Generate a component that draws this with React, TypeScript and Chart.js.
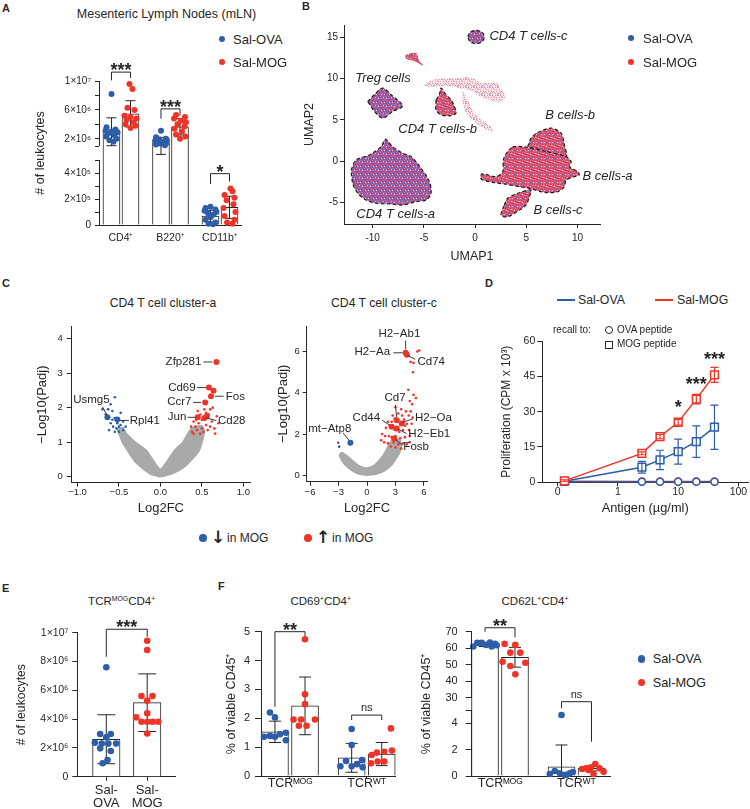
import React, { useEffect, useRef } from 'react';
import { Chart, registerables, LinearScale } from 'chart.js';

Chart.register(...registerables);

const FONT = "'Liberation Sans', Arial, Helvetica, sans-serif";
const INK = '#262626';
const BLUE = '#2e5ea8';
const RED = '#ee3427';
const GRAY = '#a9a9a9';

Chart.defaults.font.family = FONT;
Chart.defaults.color = INK;

// ---------- a linear scale with a broken (two-segment) axis ----------
class BrokenLinearScale extends LinearScale {
  static id = 'brokenLinear';
  static defaults = LinearScale.defaults;
  _brk() {
    const o: any = this.options;
    return { lo: o.breakLow, hi: o.breakHigh, fl: o.breakLowFrac, fh: o.breakHighFrac };
  }
  getPixelForValue(value: any) {
    if (value === null || value === undefined || isNaN(value)) return NaN;
    const { lo, hi, fl, fh } = this._brk();
    const min = (this as any).min, max = (this as any).max;
    let d;
    if (value <= lo) d = ((value - min) / (lo - min)) * fl;
    else if (value >= hi) d = fh + ((value - hi) / (max - hi)) * (1 - fh);
    else d = fl + ((value - lo) / (hi - lo)) * (fh - fl);
    return (this as any).getPixelForDecimal(d);
  }
  getValueForPixel(pixel: number) {
    const { lo, hi, fl, fh } = this._brk();
    const min = (this as any).min, max = (this as any).max;
    const d = (this as any).getDecimalForPixel(pixel);
    if (d <= fl) return min + (d / fl) * (lo - min);
    if (d >= fh) return hi + ((d - fh) / (1 - fh)) * (max - hi);
    return lo + ((d - fl) / (fh - fl)) * (hi - lo);
  }
}
Chart.register(BrokenLinearScale as any);

// =================== DATA ===================
// ---- Panel A: mLN leukocytes ----
const A_GROUPS = ['CD4⁺', 'B220⁺', 'CD11b⁺'];
const A_Y_TICKS = [0, 1e5, 2e5, 3e5, 4e5, 5e5, 1e6, 2e6, 4e6, 6e6, 8e6, 1e7];
const A_Y_LABELS = ['0', '', '2×10⁵', '', '4×10⁵', '', '', '2×10⁶', '', '6×10⁶', '', '1×10⁷'];
const A_OVA_MEAN = [2.97e6, 1.45e6, 6.8e4];
const A_MOG_MEAN = [5.45e6, 3.65e6, 1.36e5];
const A_OVA_SD = [1.93e6, 0.75e6, 4.5e4];
const A_MOG_SD = [1.82e6, 1.13e6, 8.5e4];
const A_OVA_DOTS = [
  [8.2e6, 3.6e6, 3.3e6, 3.1e6, 3.0e6, 2.9e6, 2.7e6, 2.5e6, 2.3e6, 2.0e6, 1.8e6, 1.6e6],
  [3.1e6, 2.2e6, 2.0e6, 1.9e6, 1.8e6, 1.7e6, 1.6e6, 1.5e6, 1.4e6, 1.3e6, 1.2e6, 1.1e6],
  [1.4e5, 1.3e5, 1.2e5, 1.1e5, 1.0e5, 9e4, 8e4, 6e4, 4e4, 2e4, 1e4, 5e3],
];
const A_OVA_JITTER = [
  [0, -0.1, 0.08, -0.12, 0, 0.12, -0.07, 0.06, -0.11, 0.1, -0.04, 0.04],
  [0, -0.1, 0.1, -0.03, 0.12, -0.12, 0.06, -0.07, 0.11, 0, -0.1, 0.08],
  [0, -0.1, 0.1, -0.12, 0.12, -0.05, 0.06, 0, -0.1, 0.1, -0.04, 0.05],
];
const A_MOG_DOTS = [
  [9.6e6, 8.9e6, 6.3e6, 6.0e6, 5.2e6, 5.0e6, 4.8e6, 4.6e6, 4.3e6, 4.0e6, 3.8e6, 3.5e6],
  [5.3e6, 5.0e6, 4.8e6, 4.5e6, 4.3e6, 4.0e6, 3.7e6, 3.4e6, 3.0e6, 2.6e6, 2.3e6, 2.0e6],
  [2.8e5, 2.6e5, 2.3e5, 2.1e5, 1.9e5, 1.6e5, 1.3e5, 1.0e5, 7e4, 4e4, 2e4, 1e4],
];
const A_MOG_JITTER = [
  [-0.02, 0.04, -0.06, 0.08, -0.12, 0, 0.12, -0.08, 0.06, -0.1, 0.1, 0],
  [-0.08, 0.1, -0.12, 0.02, 0.12, -0.05, 0.09, -0.11, 0.04, -0.08, 0.11, 0],
  [0.02, 0.06, -0.1, 0.1, -0.06, 0.08, -0.12, 0.12, -0.1, 0.1, -0.05, 0.06],
];
const A_SIG = [
  { g: 0, y: 1.123e7, yl: 1.009e7, yr: 1.045e7, text: '***' },
  { g: 1, y: 6.14e6, yl: 4.78e6, yr: 5.23e6, text: '***' },
  { g: 2, y: 3.95e5, yl: 3.15e5, yr: 3.34e5, text: '*' },
];

// ---- Panel B: UMAP cluster outlines (UMAP1, UMAP2) ----
const B_X_TICKS = [-10, -5, 0, 5, 10];
const B_Y_TICKS = [-5, 0, 5, 10, 15];
const B_CD4_A = [[-12.11, -1.06], [-11.62, 0.16], [-10.32, 0.76], [-9.18, 1.77], [-8.76, 2.67], [-8.05, 1.77], [-7.07, 0.97], [-6.25, 0.56], [-5.27, -0.85], [-4.46, -2.47], [-4.3, -3.88], [-4.79, -4.7], [-5.76, -4.9], [-7.07, -5.3], [-8.37, -5.18], [-9.67, -5.09], [-10.65, -4.7], [-11.46, -3.88], [-11.95, -2.67], [-12.11, -1.06]];
const B_TREG = [[-10.49, 7.23], [-9.83, 8.05], [-9.02, 8.86], [-8.2, 8.05], [-7.07, 6.71], [-8.05, 6.02], [-9.02, 5.22], [-9.83, 6.02], [-10.16, 6.63], [-10.49, 7.23]];
const B_CD4_B = [[-3.81, 7.44], [-3.49, 8.05], [-3.32, 8.86], [-2.83, 8.05], [-2.34, 7.44], [-2.02, 6.63], [-1.86, 5.83], [-2.51, 5.5], [-3.32, 5.62], [-3.81, 6.23], [-3.81, 7.44]];
const B_CD4_C = [[-0.7, 15.05], [-0.5, 15.6], [0.1, 15.85], [0.7, 15.6], [0.9, 15.05], [0.7, 14.5], [0.1, 14.25], [-0.5, 14.5], [-0.7, 15.05]];
const B_BCELL_B = [[5.14, 1.77], [5.47, 2.79], [6.11, 3.47], [7.42, 4.0], [8.4, 3.4], [8.72, 1.98], [8.89, 0.56], [6.93, 1.17], [5.14, 1.77]];
const B_BCELL_A = [[3.67, 1.77], [4.65, 1.77], [6.93, 1.17], [8.89, 0.56], [9.38, -0.05], [9.21, -0.66], [10.02, -1.26], [10.18, -1.66], [9.53, -1.94], [8.89, -2.27], [8.72, -3.08], [8.07, -3.69], [6.77, -3.77], [5.3, -3.28], [4.33, -3.08], [3.03, -2.79], [1.72, -2.55], [0.59, -2.15], [0.68, -1.54], [2.05, -1.86], [2.7, -1.26], [2.76, 0.16], [3.18, 1.17], [3.67, 1.77]];
const B_BCELL_C = [[2.86, -5.3], [3.18, -4.49], [4.33, -3.81], [5.47, -3.48], [5.3, -4.29], [4.98, -5.3], [4.33, -5.91], [3.18, -6.72], [2.54, -6.52], [2.86, -5.3]];
const B_BLOB = [[-6.81, 12.9], [-5.76, 13.1], [-5.44, 12.1], [-4.95, 11.5], [-5.92, 12.1], [-6.74, 12.4], [-6.81, 12.9]];
const B_STRAND_1 = [[-5.11, 9.26], [-3.81, 9.95], [-1.86, 10.07], [-0.56, 10.19], [0.74, 9.46], [2.05, 9.54], [2.54, 8.74], [2.96, 7.77], [2.37, 7.23], [1.4, 7.44], [0.42, 7.84], [-0.23, 8.45], [-1.53, 8.86], [-2.83, 9.14], [-4.46, 8.98], [-5.11, 9.26]];
const B_STRAND_2 = [[-1.21, 8.65], [-0.72, 7.44], [-0.07, 5.83], [1.07, 4.61], [1.88, 3.72], [1.56, 3.6], [0.1, 4.61], [-0.72, 5.62], [-1.21, 7.03], [-1.21, 8.65]];
const B_LABELS = [
  { text: 'CD4 T cells-c', x: 1.4, y: 15.1 },
  { text: 'Treg cells', x: -11.7, y: 10.0 },
  { text: 'CD4 T cells-b', x: -7.5, y: 3.8 },
  { text: 'B cells-b', x: 6.85, y: 5.5 },
  { text: 'B cells-a', x: 10.5, y: -1.8 },
  { text: 'CD4 T cells-a', x: -11.6, y: -6.4 },
  { text: 'B cells-c', x: 5.7, y: -6.0 },
];

// ---- Panel C: volcano plots (Log2FC, -Log10 Padj) ----
const CA_X_TICKS = [-1, -0.5, 0, 0.5, 1];
const CA_Y_TICKS = [0, 1, 2, 3, 4];
const CA_GRAY = [[0, 0], [-0.12, 0.08], [-0.22, 0.25], [-0.31, 0.45], [-0.4, 0.77], [-0.46, 1.0], [-0.5, 1.25], [-0.52, 1.38], [-0.45, 1.42], [-0.41, 1.25], [-0.3, 1.0], [-0.17, 0.77], [-0.08, 0.45], [0, 0.22], [0.08, 0.45], [0.17, 0.77], [0.27, 1.0], [0.33, 1.25], [0.38, 1.42], [0.5, 1.48], [0.53, 1.3], [0.47, 0.77], [0.38, 0.5], [0.27, 0.25], [0.13, 0.08], [0, 0]];
const CA_BLUE = [[-0.62, 1.72], [-0.58, 1.65], [-0.55, 1.7], [-0.6, 1.55], [-0.57, 1.45], [-0.53, 1.4], [-0.5, 1.45], [-0.48, 1.5], [-0.55, 1.3], [-0.5, 1.3], [-0.45, 1.35], [-0.62, 1.35], [-0.66, 1.8], [-0.6, 2.1], [-0.55, 2.3], [-0.48, 1.85], [-0.45, 1.6], [-0.7, 1.95], [-0.63, 1.95], [-0.52, 1.55], [-0.42, 1.45], [-0.58, 1.9]];
const CA_BLUE_NAMED = [[-0.64, 1.72], [-0.52, 1.66]];
const CA_RED = [[0.38, 1.3], [0.4, 1.25], [0.42, 1.45], [0.44, 1.35], [0.46, 1.55], [0.48, 1.25], [0.5, 1.4], [0.52, 1.3], [0.55, 1.5], [0.57, 1.35], [0.6, 1.45], [0.62, 1.6], [0.65, 1.4], [0.66, 1.25], [0.58, 1.8], [0.6, 1.95], [0.55, 1.85], [0.48, 1.8], [0.5, 1.65], [0.43, 1.65], [0.4, 1.6], [0.37, 1.45], [0.63, 2.0], [0.7, 1.55], [0.68, 1.75], [0.45, 1.9], [0.53, 1.95]];
const CA_RED_NAMED = [[0.675, 3.32], [0.585, 2.58], [0.64, 2.49], [0.61, 2.33], [0.54, 2.15], [0.45, 1.72], [0.53, 1.7], [0.56, 1.76]];
const CA_GENES = [
  { text: 'Zfp281', x: 0.675, y: 3.32, dx: -15, dy: 0, align: 'right', line: [-13, 0, -4, 0] },
  { text: 'Cd69', x: 0.585, y: 2.58, dx: -13.3, dy: 0, align: 'right', line: [-12, 0, -3, 0] },
  { text: 'Fos', x: 0.61, y: 2.33, dx: 14.7, dy: 0.6, align: 'left', line: [4, 0, 12.7, 0] },
  { text: 'Ccr7', x: 0.54, y: 2.15, dx: -13.8, dy: -0.6, align: 'right', line: [-12, 0, -4, 0] },
  { text: 'Jun', x: 0.45, y: 1.72, dx: -11.4, dy: -0.5, align: 'right', line: [-10.4, 0, -2, 0] },
  { text: 'Cd28', x: 0.53, y: 1.7, dx: 13.6, dy: 2.8, align: 'left', line: [2, 0, 12, 2.5] },
  { text: 'Rpl41', x: -0.52, y: 1.66, dx: 12.5, dy: 1.4, align: 'left', line: [2.5, 1, 11.8, 1] },
  { text: 'Usmg5', x: -0.64, y: 1.72, dx: -16, dy: -17, align: 'center', line: [-4.6, -10.2, -0.5, -2] },
];
const CC_X_TICKS = [-6, -3, 0, 3, 6];
const CC_Y_TICKS = [0, 2, 4, 6];
const CC_GRAY = [[0, 0], [-0.8, 0.05], [-1.5, 0.2], [-2.2, 0.45], [-2.7, 0.75], [-2.9, 1.0], [-2.6, 1.1], [-2.1, 0.95], [-1.5, 0.7], [-0.8, 0.45], [0, 0.35], [0.8, 0.5], [1.5, 0.85], [2.0, 1.2], [2.4, 1.6], [2.9, 1.8], [3.5, 1.7], [3.6, 1.3], [3.2, 0.9], [2.6, 0.5], [1.8, 0.2], [0.9, 0.05], [0, 0]];
const CC_BLUE = [[-3.03, 1.58], [-2.93, 1.39]];
const CC_BLUE_NAMED = [[-1.75, 1.58]];
const CC_RED = [[5.3, 6.0], [5.5, 6.05], [4.6, 5.5], [4.9, 5.45], [4.85, 5.0], [4.35, 4.15], [5.15, 3.75], [4.75, 3.45], [4.5, 3.6], [4.9, 3.9], [3.0, 3.3], [3.3, 3.0], [3.6, 3.2], [4.1, 3.1], [4.4, 2.9], [4.6, 3.1], [2.7, 2.9], [3.9, 2.7], [4.2, 2.5], [2.2, 2.6], [2.4, 2.4], [2.0, 2.3], [2.9, 2.2], [3.4, 2.1], [3.8, 2.2], [4.4, 2.2], [1.6, 2.0], [1.9, 1.9], [2.3, 1.9], [2.6, 1.85], [3.0, 1.9], [3.5, 1.8], [4.0, 1.85], [4.5, 1.9], [1.8, 1.6], [2.2, 1.55], [2.8, 1.6], [3.3, 1.5], [3.8, 1.55], [4.2, 1.5], [2.5, 1.4], [3.0, 1.35], [3.6, 1.3], [4.7, 2.5], [4.8, 2.8], [3.2, 2.6], [2.6, 2.6], [4.0, 2.4], [1.5, 1.7], [4.5, 1.6], [3.5, 2.45], [2.9, 2.75], [3.7, 2.9]];
const CC_RED_NAMED = [[4.07, 5.94], [4.2, 5.85], [3.13, 2.67], [2.6, 2.35], [3.66, 2.51], [3.13, 2.27], [2.86, 1.79]];
const CC_GENES = [
  { text: 'H2−Ab1', x: 4.07, y: 5.94, dx: -6.3, dy: -19, align: 'center', line: [0, -12.3, 0, -3.3] },
  { text: 'H2−Aa', x: 4.07, y: 5.94, dx: -15.6, dy: -0.6, align: 'right', line: [-12.3, 0, -3, 0] },
  { text: 'Cd74', x: 4.2, y: 5.85, dx: 10.6, dy: 6.7, align: 'left', line: [0.6, 0.7, 8.3, 4.7] },
  { text: 'Cd7', x: 3.13, y: 2.67, dx: -1.7, dy: -22.7, align: 'center', line: [-1.4, -15.3, 0, -3] },
  { text: 'Cd44', x: 2.6, y: 2.35, dx: -11.6, dy: -9.4, align: 'right', line: [-9.6, -6.7, -2, -1.7] },
  { text: 'H2−Oa', x: 3.66, y: 2.51, dx: 13.3, dy: -5.6, align: 'left', line: [1.3, -1.3, 11.3, -4.8] },
  { text: 'H2−Eb1', x: 3.13, y: 2.27, dx: 11.6, dy: 5.7, align: 'left', line: [1.3, 0.7, 10, 5] },
  { text: 'Fosb', x: 2.86, y: 1.79, dx: 9.2, dy: 8.5, align: 'left', line: [1.4, 1.3, 8.6, 6.8] },
  { text: 'mt−Atp8', x: -1.75, y: 1.58, dx: -20.6, dy: -14.3, align: 'center', line: [-7.2, -9.6, -1.4, -2.6] },
];

// ---- Panel D: recall proliferation ----
const D_DOSE = [0.13, 2.5, 5, 10, 20, 40];
const D_X_TICKS = [0.1, 1, 10, 100];
const D_X_LABELS = ['0', '1', '10', '100'];
const D_Y_TICKS = [0, 15, 30, 45, 60];
const D_MOG_MOGPEP = [0.6, 12.3, 19.4, 25.5, 35.3, 45.6];
const D_MOG_MOGPEP_SD = [0.4, 0.6, 0.9, 1.2, 2.0, 3.2];
const D_OVA_MOGPEP = [0.4, 6.4, 9.5, 13.0, 17.3, 23.4];
const D_OVA_MOGPEP_SD = [0.3, 2.5, 4.1, 5.3, 6.7, 9.4];
const D_MOG_OVAPEP = [0.4, 0.3, 0.3, 0.3, 0.3, 0.3];
const D_OVA_OVAPEP = [0.2, 0.2, 0.2, 0.2, 0.2, 0.2];
const D_SIG = [
  { x: 10, y: 33.7, text: '*' },
  { x: 20, y: 43.5, text: '***' },
  { x: 40, y: 54.2, text: '***' },
];

// ---- Panel E: TCR-MOG CD4+ ----
const E_GROUPS = [['Sal-', 'OVA'], ['Sal-', 'MOG']];
const E_Y_TICKS = [0, 2e6, 4e6, 6e6, 8e6, 1e7];
const E_Y_LABELS = ['0', '2×10⁶', '4×10⁶', '6×10⁶', '8×10⁶', '1×10⁷'];
const E_MEAN = [2.6e6, 5.14e6];
const E_SD = [1.7e6, 2.0e6];
const E_OVA_DOTS = [7.6e6, 2.97e6, 2.97e6, 2.74e6, 2.36e6, 2.3e6, 2.3e6, 2.3e6, 1.97e6, 1.78e6, 1.16e6, 0.93e6];
const E_OVA_JITTER = [0, -0.15, 0.11, 0, -0.28, -0.11, 0.05, 0.24, -0.15, 0.11, 0.03, -0.09];
const E_MOG_DOTS = [9.44e6, 8.8e6, 5.6e6, 5.6e6, 5.28e6, 4.12e6, 4.4e6, 3.82e6, 3.82e6, 3.82e6, 3.82e6, 3.0e6];
const E_MOG_JITTER = [0, 0, -0.14, 0.13, 0, -0.27, 0, -0.14, 0, 0.13, 0.27, 0];
const E_SIG = [{ x1: 0, x2: 1, y: 1.024e7, yl: 8.33e6, yr: 9.72e6, text: '***' }];

// ---- Panel F: CD69+ and CD62L+ ----
const F_GROUPS = ['TCRᴹᴼᴳ', 'TCRᵂᵀ'];
const F69_Y_TICKS = [0, 1, 2, 3, 4, 5];
const F69_OVA_MEAN = [1.53, 0.63];
const F69_MOG_MEAN = [2.43, 0.76];
const F69_OVA_SD = [0.37, 0.5];
const F69_MOG_SD = [1.0, 0.4];
const F69_OVA_DOTS = [[2.2, 2.03, 1.36, 1.39, 1.36, 1.45, 1.5, 1.24], [1.63, 1.07, 0.34, 0.52, 0.34, 0.41, 0.55, 0.3]];
const F69_OVA_JITTER = [[-0.065, 0, -0.143, -0.065, 0, 0.065, 0.143, 0.143], [0, 0, -0.147, -0.073, 0, 0.07, 0.136, 0.143]];
const F69_MOG_DOTS = [[4.74, 2.83, 2.49, 1.96, 1.96, 1.74, 1.74, 1.96], [1.65, 0.73, 0.81, 0.84, 0.88, 0.44, 0.5, 0.5]];
const F69_MOG_JITTER = [[0, 0, 0, -0.15, -0.05, -0.08, 0.02, 0.13], [0.12, -0.13, -0.063, 0.033, 0.133, -0.14, -0.053, 0.033]];
const F69_SIG = [
  { g: 0, y: 5.0, yl: 2.4, yr: 4.85, text: '**' },
  { g: 1, y: 2.11, yl: 1.94, yr: 1.94, text: 'ns' },
];
const F62_Y_TICKS = [0, 2, 4, 5, 30, 40, 50, 60, 70];
const F62_Y_LABELS = ['0', '2', '4', '', '30', '40', '50', '60', '70'];
const F62_OVA_MEAN = [61.9, 0.7];
const F62_MOG_MEAN = [54.5, 0.58];
const F62_OVA_SD = [0.9, 1.65];
const F62_MOG_SD = [6.0, 0.2];
const F62_OVA_DOTS = [[61.0, 63.2, 63.3, 62.0, 63.4, 61.0, 62.6, 61.8], [4.62, 0.15, 0.38, 0.2, 0.08, 0.2, 0.3, 0.1]];
const F62_OVA_JITTER = [[-0.153, -0.1, -0.043, 0.013, 0.065, 0.088, 0.13, 0.153], [0, -0.153, -0.088, -0.022, 0.043, 0.109, 0.148, 0.069]];
const F62_MOG_DOTS = [[62.6, 62.0, 57.3, 57.3, 51.8, 51.2, 49.2, 44.2], [0.53, 0.58, 0.65, 0.91, 0.58, 0.33, 0.15, 0.45]];
const F62_MOG_JITTER = [[-0.136, 0.004, -0.061, 0.069, -0.162, 0.135, -0.061, 0.004], [-0.124, -0.068, -0.007, 0.05, 0.106, 0.158, 0.027, -0.038]];
const F62_SIG = [
  { g: 0, y: 72.4, yl: 70, yr: 66.6, text: '**' },
  { g: 1, y: 21.9, yl: 8.5, yr: 2.6, text: 'ns' },
];

// =================== LAYOUT ===================
const BOX_A = { x: 0, y: 50, w: 250, h: 200 };
const BOX_B = { x: 290, y: 15, w: 360, h: 255 };
const BOX_CA = { x: 20, y: 310, w: 235, h: 210 };
const BOX_CC = { x: 265, y: 310, w: 215, h: 210 };
const BOX_D = { x: 495, y: 320, w: 255, h: 200 };
const BOX_E = { x: 0, y: 610, w: 200, h: 199 };
const BOX_FL = { x: 215, y: 610, w: 190, h: 199 };
const BOX_FR = { x: 415, y: 610, w: 200, h: 199 };

function geom(box: any, L: number, T: number, R: number, B: number) {
  return {
    padding: { left: 0, top: T - box.y, right: box.x + box.w - R, bottom: 0 },
    yW: L - box.x,
    xH: box.y + box.h - B,
  };
}

function base(g: any) {
  return {
    responsive: false,
    animation: false,
    events: [],
    layout: { padding: g.padding, autoPadding: false },
    plugins: { legend: { display: false }, tooltip: { enabled: false } },
  };
}

function gridOpts(tl: number) {
  return { display: tl > 0, drawOnChartArea: false, drawTicks: tl > 0, tickLength: tl, color: INK, tickColor: INK, tickWidth: 1, offset: false };
}

function xAxis(g: any, o: any) {
  const tl = o.tl || 0;
  return {
    type: o.type || 'linear',
    min: o.min, max: o.max, offset: false, bounds: 'data',
    afterFit: (s: any) => { s.height = g.xH; },
    afterBuildTicks: (s: any) => { s.ticks = o.ticks.map((v: number) => ({ value: v })); },
    grid: gridOpts(tl),
    border: { display: true, color: INK, width: 1 },
    ticks: {
      autoSkip: false, maxRotation: 0, minRotation: 0, padding: o.pad || 0, color: INK,
      font: { family: FONT, size: o.fs, lineHeight: o.lh || 1.2 },
      callback: (_v: any, i: number) => o.labels[i],
    },
    title: o.title
      ? { display: true, text: o.title, color: INK, font: { family: FONT, size: o.tfs, lineHeight: 1.2 }, padding: { top: 0, bottom: o.tpad } }
      : { display: false },
  };
}

function yAxis(g: any, o: any) {
  const tl = o.tl || 0;
  return {
    type: o.type || 'linear',
    min: o.min, max: o.max, bounds: 'data', beginAtZero: false,
    afterFit: (s: any) => { s.width = g.yW; },
    afterBuildTicks: (s: any) => { s.ticks = o.ticks.map((v: number) => ({ value: v })); },
    grid: gridOpts(tl),
    border: { display: o.border !== false, color: INK, width: 1 },
    ticks: {
      autoSkip: false, padding: o.pad || 0, color: INK,
      font: { family: FONT, size: o.fs, lineHeight: 1.2 },
      callback: (_v: any, i: number) => o.labels[i],
    },
    title: o.title
      ? { display: true, text: o.title, color: INK, font: { family: FONT, size: o.tfs, lineHeight: 1.2 }, padding: { top: o.tpad, bottom: 0 } }
      : { display: false },
    ...(o.extra || {}),
  };
}

const pts = (arr: number[][]) => arr.map(([x, y]) => ({ x, y }));
const dotsFrom = (vals: number[][], jit: number[][], side: number) =>
  vals.flatMap((row, g) => row.map((v, k) => ({ x: g + side + jit[g][k], y: v })));
const fmtMinus = (v: number, d: number) => (d > 0 ? v.toFixed(d) : String(v)).replace('-', '−');

// =================== PLUGINS ===================
const errorBarPlugin = {
  id: 'errbars',
  afterDatasetDraw(chart: any, args: any) {
    const ds = chart.data.datasets[args.index];
    if (!ds.errors) return;
    const meta = args.meta;
    const ys = chart.scales[meta.yAxisID];
    const a = chart.chartArea;
    const ctx = chart.ctx;
    ctx.save();
    ctx.beginPath();
    ctx.rect(a.left - 30, a.top - 30, a.right - a.left + 60, a.bottom - a.top + 30);
    ctx.clip();
    ctx.strokeStyle = ds.errorColor || INK;
    ctx.lineWidth = ds.errorWidth || 1;
    meta.data.forEach((el: any, i: number) => {
      const err = ds.errors[i];
      if (!err) return;
      const v = ds.data[i].y;
      const x = el.x;
      const yt = ys.getPixelForValue(v + err);
      const yb = ys.getPixelForValue(v - err);
      const cw = (ds.capWidth || 8) / 2;
      ctx.beginPath();
      ctx.moveTo(x, yt); ctx.lineTo(x, yb);
      ctx.moveTo(x - cw, yt); ctx.lineTo(x + cw, yt);
      ctx.moveTo(x - cw, yb); ctx.lineTo(x + cw, yb);
      ctx.stroke();
    });
    ctx.restore();
  },
};

const brokenAxisPlugin = {
  id: 'brokenAxis',
  afterDraw(chart: any) {
    const ys = chart.scales.y;
    const o = ys.options;
    if (o.breakLow === undefined) return;
    const x = Math.round(chart.chartArea.left - 0.5) + 0.5;
    const ctx = chart.ctx;
    ctx.save();
    ctx.strokeStyle = INK;
    ctx.lineWidth = 1;
    ctx.beginPath();
    ctx.moveTo(x, ys.getPixelForValue(ys.min)); ctx.lineTo(x, ys.getPixelForValue(o.breakLow));
    ctx.moveTo(x, ys.getPixelForValue(o.breakHigh)); ctx.lineTo(x, ys.getPixelForValue(ys.max));
    ctx.stroke();
    ctx.restore();
  },
};

function sigPlugin(items: any[]) {
  return {
    id: 'sig',
    afterDraw(chart: any) {
      const ctx = chart.ctx, xs = chart.scales.x, ys = chart.scales.y;
      ctx.save();
      ctx.strokeStyle = INK; ctx.fillStyle = INK; ctx.lineWidth = 1;
      items.forEach((it) => {
        const x1 = xs.getPixelForValue(it.x1), x2 = xs.getPixelForValue(it.x2);
        const y = ys.getPixelForValue(it.y), yl = ys.getPixelForValue(it.yl), yr = ys.getPixelForValue(it.yr);
        ctx.beginPath();
        ctx.moveTo(x1, yl); ctx.lineTo(x1, y); ctx.lineTo(x2, y); ctx.lineTo(x2, yr);
        ctx.stroke();
        const cx = (x1 + x2) / 2;
        ctx.textAlign = 'center';
        ctx.textBaseline = 'alphabetic';
        if (it.text === 'ns') {
          ctx.font = `11px ${FONT}`;
          ctx.fillText('ns', cx, y - 3.8);
        } else {
          ctx.font = `bold 18px ${FONT}`;
          ctx.fillText(it.text, cx, y + 4);
        }
      });
      ctx.restore();
    },
  };
}

function starPlugin(items: any[]) {
  return {
    id: 'stars',
    afterDraw(chart: any) {
      const ctx = chart.ctx;
      ctx.save();
      ctx.fillStyle = INK;
      ctx.font = `bold 18px ${FONT}`;
      ctx.textAlign = 'center';
      ctx.textBaseline = 'alphabetic';
      items.forEach((s) => ctx.fillText(s.text, chart.scales.x.getPixelForValue(s.x), chart.scales.y.getPixelForValue(s.y) + 10.5));
      ctx.restore();
    },
  };
}

function annotPlugin(items: any[], font: string) {
  return {
    id: 'annot',
    afterDatasetsDraw(chart: any) {
      const ctx = chart.ctx, xs = chart.scales.x, ys = chart.scales.y;
      ctx.save();
      ctx.font = font;
      ctx.fillStyle = INK;
      ctx.strokeStyle = INK;
      ctx.lineWidth = 0.9;
      ctx.textBaseline = 'middle';
      items.forEach((it) => {
        const px = xs.getPixelForValue(it.x), py = ys.getPixelForValue(it.y);
        if (it.line) {
          ctx.beginPath();
          ctx.moveTo(px + it.line[0], py + it.line[1]);
          ctx.lineTo(px + it.line[2], py + it.line[3]);
          ctx.stroke();
        }
        ctx.textAlign = it.align || 'left';
        ctx.fillText(it.text, px + (it.dx || 0), py + (it.dy || 0));
      });
      ctx.restore();
    },
  };
}

// texture for the UMAP cell clouds (red / blue cells mixed)
function speckle(kind: string) {
  const N = 8;
  const c = document.createElement('canvas');
  c.width = N; c.height = N;
  const g = c.getContext('2d') as CanvasRenderingContext2D;
  const faint = kind === 'faint';
  const baseCol = faint ? 'rgba(238,150,165,0.25)' : kind === 'red' ? 'rgb(214,96,128)' : 'rgb(160,104,172)';
  g.fillStyle = baseCol;
  g.fillRect(0, 0, N, N);
  const blueCol = faint ? 'rgba(90,105,205,0.5)' : 'rgb(76,96,200)';
  const redCol = faint ? 'rgba(236,60,60,0.55)' : 'rgb(232,48,56)';
  const lightCol = faint ? 'rgba(255,255,255,0)' : 'rgb(232,196,222)';
  const blues = kind === 'red'
    ? [[0, 0], [5, 3], [2, 6], [7, 7]]
    : [[0, 0], [3, 1], [6, 2], [1, 4], [4, 5], [7, 6], [2, 7], [5, 0]];
  const reds = kind === 'red'
    ? [[2, 0], [4, 1], [7, 1], [1, 2], [3, 3], [6, 4], [0, 5], [4, 6], [6, 6], [1, 7], [3, 5], [7, 4]]
    : [[2, 0], [7, 0], [1, 2], [4, 2], [6, 4], [3, 4], [0, 6], [5, 6], [2, 5], [7, 7]];
  const lights = [[5, 2], [0, 3], [3, 7], [6, 7]];
  g.fillStyle = blueCol; blues.forEach(([x, y]) => g.fillRect(x, y, 1, 1));
  g.fillStyle = redCol; reds.forEach(([x, y]) => g.fillRect(x, y, 1, 1));
  g.fillStyle = lightCol; lights.forEach(([x, y]) => g.fillRect(x, y, 1, 1));
  return g.createPattern(c, 'repeat');
}

// =================== CHART CONFIGS ===================
function barPanel(box: any, area: number[], o: any) {
  const g = geom(box, area[0], area[1], area[2], area[3]);
  const side = o.side;
  const datasets: any[] = [];
  o.bars.forEach((b: any, k: number) => {
    datasets.push({
      type: 'bar',
      data: b.mean.map((m: number, i: number) => ({ x: i + b.side, y: m })),
      backgroundColor: '#ffffff', borderColor: INK, borderWidth: 1,
      barThickness: o.barW, grouped: false, order: 10 - k,
      errors: b.sd, capWidth: o.cap, clip: false,
    });
  });
  o.dots.forEach((d: any, k: number) => {
    datasets.push({
      type: 'scatter', data: dotsFrom(d.vals, d.jit, d.side),
      backgroundColor: d.color, borderColor: d.color, borderWidth: 0,
      pointRadius: o.dotR, order: 2 - k, clip: false,
    });
  });
  return {
    type: 'bar',
    data: { datasets },
    options: {
      ...base(g),
      scales: {
        x: xAxis(g, o.x),
        y: yAxis(g, o.y),
      },
    },
    plugins: [errorBarPlugin, brokenAxisPlugin, sigPlugin(o.sig.map((s: any) => ({
      x1: s.x1 !== undefined ? s.x1 : s.g - side, x2: s.x2 !== undefined ? s.x2 : s.g + side, y: s.y, yl: s.yl, yr: s.yr, text: s.text,
    })))],
  };
}

function makeA() {
  const S = 0.192;
  return barPanel(BOX_A, [99, 81, 241, 225], {
    side: S, barW: 17, cap: 10, dotR: 3,
    bars: [{ mean: A_OVA_MEAN, sd: A_OVA_SD, side: -S }, { mean: A_MOG_MEAN, sd: A_MOG_SD, side: S }],
    dots: [
      { vals: A_OVA_DOTS, jit: A_OVA_JITTER, side: -S, color: BLUE },
      { vals: A_MOG_DOTS, jit: A_MOG_JITTER, side: S, color: RED },
    ],
    x: { min: -0.444, max: 2.424, ticks: [0, 1, 2], labels: A_GROUPS, tl: 0, pad: 6.7, fs: 10.5 },
    y: {
      type: 'brokenLinear', min: 0, max: 1e7, ticks: A_Y_TICKS, labels: A_Y_LABELS, tl: 4, pad: 4, fs: 10,
      title: '# of leukocytes', tfs: 12.5, tpad: 33.5, border: false,
      extra: { breakLow: 5e5, breakHigh: 1e6, breakLowFrac: 65 / 144, breakHighFrac: 79 / 144 },
    },
    sig: A_SIG,
  });
}

function makeE() {
  return barPanel(BOX_E, [77.3, 632.7, 175, 776.7], {
    side: 0, barW: 27.5, cap: 18, dotR: 3.3,
    bars: [{ mean: E_MEAN, sd: E_SD, side: 0 }],
    dots: [
      { vals: [E_OVA_DOTS, []], jit: [E_OVA_JITTER, []], side: 0, color: BLUE },
      { vals: [[], E_MOG_DOTS], jit: [[], E_MOG_JITTER], side: 0, color: RED },
    ],
    x: { min: -0.709, max: 1.68, ticks: [0, 1], labels: E_GROUPS, tl: 4, pad: 2.5, fs: 13, lh: 1.05 },
    y: { min: 0, max: 1e7, ticks: E_Y_TICKS, labels: E_Y_LABELS, tl: 5, pad: 4, fs: 10.5, title: '# of leukocytes', tfs: 12.2, tpad: 14.4 },
    sig: E_SIG,
  });
}

function makeF69() {
  const S = 0.196;
  return barPanel(BOX_FL, [261, 631.7, 395, 776], {
    side: S, barW: 27, cap: 12, dotR: 3.3,
    bars: [{ mean: F69_OVA_MEAN, sd: F69_OVA_SD, side: -S }, { mean: F69_MOG_MEAN, sd: F69_MOG_SD, side: S }],
    dots: [
      { vals: F69_OVA_DOTS, jit: F69_OVA_JITTER, side: -S, color: BLUE },
      { vals: F69_MOG_DOTS, jit: F69_MOG_JITTER, side: S, color: RED },
    ],
    x: { min: -0.378, max: 1.369, ticks: [0, 1], labels: F_GROUPS, tl: 3, pad: -1.5, fs: 12.5, lh: 1 },
    y: { min: 0, max: 5, ticks: F69_Y_TICKS, labels: F69_Y_TICKS.map(String), tl: 6, pad: 5, fs: 11, title: '% of viable CD45⁺', tfs: 12.5, tpad: 9.2 },
    sig: F69_SIG,
  });
}

function makeF62() {
  const S = 0.196;
  return barPanel(BOX_FR, [471.7, 631.7, 610, 776], {
    side: S, barW: 27, cap: 12, dotR: 3.3,
    bars: [{ mean: F62_OVA_MEAN, sd: F62_OVA_SD, side: -S }, { mean: F62_MOG_MEAN, sd: F62_MOG_SD, side: S }],
    dots: [
      { vals: F62_OVA_DOTS, jit: F62_OVA_JITTER, side: -S, color: BLUE },
      { vals: F62_MOG_DOTS, jit: F62_MOG_JITTER, side: S, color: RED },
    ],
    x: { min: -0.37, max: 1.438, ticks: [0, 1], labels: F_GROUPS, tl: 3, pad: -1.5, fs: 12.5, lh: 1 },
    y: {
      type: 'brokenLinear', min: 0, max: 70, ticks: F62_Y_TICKS, labels: F62_Y_LABELS, tl: 6, pad: 8, fs: 11,
      title: '% of viable CD45⁺', tfs: 12.5, tpad: 4.2, border: false,
      extra: { breakLow: 5, breakHigh: 30, breakLowFrac: 66 / 144.3, breakHighFrac: 78.3 / 144.3 },
    },
    sig: F62_SIG,
  });
}

function polyDs(poly: number[][], fill: any, outlined: boolean) {
  return {
    type: 'line', data: pts(poly), fill: 'shape', backgroundColor: fill,
    borderColor: outlined ? '#1c1c1c' : 'rgba(0,0,0,0)', borderWidth: outlined ? 1.2 : 0,
    borderDash: [3.5, 2.5], pointRadius: 0, tension: 0.3, order: outlined ? 1 : 5,
  };
}

function makeB() {
  const g = geom(BOX_B, 344, 25, 600, 224);
  const mix = speckle('mix'), red = speckle('red'), faint = speckle('faint');
  return {
    type: 'scatter',
    data: {
      datasets: [
        polyDs(B_STRAND_1, faint, false),
        polyDs(B_STRAND_2, faint, false),
        polyDs(B_BLOB, red, false),
        polyDs(B_CD4_A, mix, true),
        polyDs(B_TREG, mix, true),
        polyDs(B_CD4_B, red, true),
        polyDs(B_CD4_C, mix, true),
        polyDs(B_BCELL_A, red, true),
        polyDs(B_BCELL_B, red, true),
        polyDs(B_BCELL_C, red, true),
      ],
    },
    options: {
      ...base(g),
      scales: {
        x: xAxis(g, { min: -12.8, max: 12.2, ticks: B_X_TICKS, labels: B_X_TICKS.map(String), tl: 4, pad: 4.3, fs: 10, title: 'UMAP1', tfs: 12.5, tpad: 5.5 }),
        y: yAxis(g, { min: -7.6, max: 16.5, ticks: B_Y_TICKS, labels: B_Y_TICKS.map(String), tl: 4, pad: 2, fs: 10, title: 'UMAP2', tfs: 12.5, tpad: 12.5 }),
      },
    },
    plugins: [annotPlugin(B_LABELS, `italic 13px ${FONT}`)],
  };
}

function volcano(box: any, area: number[], o: any) {
  const g = geom(box, area[0], area[1], area[2], area[3]);
  return {
    type: 'scatter',
    data: {
      datasets: [
        { type: 'line', data: pts(o.gray), fill: 'shape', backgroundColor: GRAY, borderColor: GRAY, borderWidth: 1.5, pointRadius: 0, tension: 0.2, order: 9 },
        { type: 'scatter', data: pts(o.blue), backgroundColor: BLUE, borderWidth: 0, pointRadius: 1.3, order: 3 },
        { type: 'scatter', data: pts(o.red), backgroundColor: RED, borderWidth: 0, pointRadius: 1.3, order: 3 },
        { type: 'scatter', data: pts(o.blueNamed), backgroundColor: BLUE, borderWidth: 0, pointRadius: 3, order: 1 },
        { type: 'scatter', data: pts(o.redNamed), backgroundColor: RED, borderWidth: 0, pointRadius: 3, order: 1 },
      ],
    },
    options: {
      ...base(g),
      scales: {
        x: xAxis(g, { min: o.xmin, max: o.xmax, ticks: o.xticks, labels: o.xticks.map((v: number) => fmtMinus(v, o.xdec)), tl: 4, pad: o.xpad, fs: 9.5, title: 'Log2FC', tfs: 13, tpad: 4.2 }),
        y: yAxis(g, { min: o.ymin, max: o.ymax, ticks: o.yticks, labels: o.yticks.map(String), tl: o.ytl, pad: o.ypad, fs: 9.5, title: '−Log10(Padj)', tfs: 13, tpad: o.ytpad }),
      },
    },
    plugins: [annotPlugin(o.genes, `11.5px ${FONT}`)],
  };
}

function makeCA() {
  return volcano(BOX_CA, [71.7, 326.7, 250, 482.7], {
    gray: CA_GRAY, blue: CA_BLUE, red: CA_RED, blueNamed: CA_BLUE_NAMED, redNamed: CA_RED_NAMED, genes: CA_GENES,
    xmin: -1.07, xmax: 1.08, xticks: CA_X_TICKS, xdec: 1, xpad: 0,
    ymin: -0.17, ymax: 4.34, yticks: CA_Y_TICKS, ytl: 5, ypad: 4, ytpad: 14.2,
  });
}

function makeCC() {
  return volcano(BOX_CC, [306.7, 326, 427.3, 481.7], {
    gray: CC_GRAY, blue: CC_BLUE, red: CC_RED, blueNamed: CC_BLUE_NAMED, redNamed: CC_RED_NAMED, genes: CC_GENES,
    xmin: -6.35, xmax: 6.35, xticks: CC_X_TICKS, xdec: 0, xpad: 0.5,
    ymin: -0.31, ymax: 7.24, yticks: CC_Y_TICKS, ytl: 4, ypad: 3, ytpad: 10.2,
  });
}

function makeD() {
  const g = geom(BOX_D, 542.3, 341, 748, 482.3);
  const series = (ys: number[], sd: number[] | null, color: string, style: string, r: number, order: number) => ({
    type: 'line',
    data: D_DOSE.map((d, i) => ({ x: d, y: ys[i] })),
    borderColor: color, borderWidth: 1.5, tension: 0,
    pointStyle: style, pointRadius: r, pointBackgroundColor: '#ffffff', pointBorderColor: color, pointBorderWidth: 1.5,
    errors: sd, capWidth: 8, errorColor: color, errorWidth: 1.2, order, clip: false,
  });
  return {
    type: 'scatter',
    data: {
      datasets: [
        series(D_MOG_OVAPEP, null, RED, 'circle', 3.5, 4),
        series(D_OVA_OVAPEP, null, BLUE, 'circle', 3.5, 3),
        series(D_OVA_MOGPEP, D_OVA_MOGPEP_SD, BLUE, 'rect', 5.5, 2),
        series(D_MOG_MOGPEP, D_MOG_MOGPEP_SD, RED, 'rect', 5.5, 1),
      ],
    },
    options: {
      ...base(g),
      scales: {
        x: xAxis(g, { type: 'logarithmic', min: 0.0557, max: 144, ticks: D_X_TICKS, labels: D_X_LABELS, tl: 4, pad: 0, fs: 10.5, title: 'Antigen (µg/ml)', tfs: 12.8, tpad: 4 }),
        y: yAxis(g, { min: 0, max: 60, ticks: D_Y_TICKS, labels: D_Y_TICKS.map(String), tl: 5, pad: 2, fs: 10.5, title: 'Proliferation (CPM x 10³)', tfs: 12, tpad: 4.5 }),
      },
    },
    plugins: [errorBarPlugin, starPlugin(D_SIG)],
  };
}

// =================== COMPONENTS ===================
function ChartCanvas({ box, make }: { box: any; make: () => any }) {
  const ref = useRef<HTMLCanvasElement>(null);
  useEffect(() => {
    const chart = new Chart(ref.current as HTMLCanvasElement, make());
    return () => chart.destroy();
  }, []);
  return (
    <canvas
      ref={ref}
      width={box.w}
      height={box.h}
      style={{ position: 'absolute', left: box.x, top: box.y, width: box.w, height: box.h }}
    />
  );
}

function Txt({ x, y, s = 12, a = 'l', b = false, i = false, f = FONT, children }: any) {
  const tx = a === 'l' ? '0' : a === 'c' ? '-50%' : '-100%';
  return (
    <div
      style={{
        position: 'absolute', left: x, top: y, transform: `translate(${tx}, -50%)`,
        fontSize: s, lineHeight: 1, fontWeight: b ? 700 : 400, fontStyle: i ? 'italic' : 'normal',
        whiteSpace: 'nowrap', fontFamily: f, color: INK,
      }}
    >
      {children}
    </div>
  );
}

const Sup = ({ children }: any) => (
  <span style={{ fontSize: '0.6em', position: 'relative', top: '-0.55em' }}>{children}</span>
);

function Dot({ x, y, r = 3.4, c }: any) {
  return <div style={{ position: 'absolute', left: x - r, top: y - r, width: 2 * r, height: 2 * r, borderRadius: '50%', background: c }} />;
}

const ARROW_FONT = "'DejaVu Sans', sans-serif";

export default function App() {
  return (
    <div style={{ position: 'absolute', left: 0, top: 0, width: 750, height: 809, background: '#fff', overflow: 'hidden', fontFamily: FONT }}>
      <ChartCanvas box={BOX_A} make={makeA} />
      <ChartCanvas box={BOX_B} make={makeB} />
      <ChartCanvas box={BOX_CA} make={makeCA} />
      <ChartCanvas box={BOX_CC} make={makeCC} />
      <ChartCanvas box={BOX_D} make={makeD} />
      <ChartCanvas box={BOX_E} make={makeE} />
      <ChartCanvas box={BOX_FL} make={makeF69} />
      <ChartCanvas box={BOX_FR} make={makeF62} />

      {/* Panel A */}
      <Txt x={2} y={8} s={11} b>A</Txt>
      <Txt x={166.5} y={14} s={12.5} a="c">Mesenteric Lymph Nodes (mLN)</Txt>
      <Dot x={222} y={39} c={BLUE} />
      <Txt x={233} y={39} s={13}>Sal-OVA</Txt>
      <Dot x={222} y={62} c={RED} />
      <Txt x={233} y={62} s={13}>Sal-MOG</Txt>

      {/* Panel B */}
      <Txt x={302} y={6} s={11} b>B</Txt>
      <Dot x={631} y={38} c={BLUE} />
      <Txt x={643} y={38} s={13}>Sal-OVA</Txt>
      <Dot x={631} y={62} c={RED} />
      <Txt x={643} y={62} s={13}>Sal-MOG</Txt>

      {/* Panel C */}
      <Txt x={2} y={283} s={11} b>C</Txt>
      <Txt x={163} y={303} s={12.2} a="c">CD4 T cell cluster-a</Txt>
      <Txt x={384} y={303} s={12.2} a="c">CD4 T cell cluster-c</Txt>
      <Dot x={203} y={538} r={3.8} c={BLUE} />
      <Txt x={211} y={537} s={17} b f={ARROW_FONT}>↓</Txt>
      <Txt x={227} y={538} s={12}>in MOG</Txt>
      <Dot x={308} y={538} r={3.8} c={RED} />
      <Txt x={316} y={537} s={17} b f={ARROW_FONT}>↑</Txt>
      <Txt x={332} y={538} s={12}>in MOG</Txt>

      {/* Panel D */}
      <Txt x={485} y={283} s={11} b>D</Txt>
      <div style={{ position: 'absolute', left: 557, top: 299, width: 18, height: 2, background: BLUE }} />
      <Txt x={578} y={300} s={12.3}>Sal-OVA</Txt>
      <div style={{ position: 'absolute', left: 655, top: 299, width: 18, height: 2, background: RED }} />
      <Txt x={677} y={300} s={12.3}>Sal-MOG</Txt>
      <Txt x={553} y={330} s={10}>recall to:</Txt>
      <div style={{ position: 'absolute', left: 604.5, top: 326.2, width: 6, height: 6, border: `1px solid ${INK}`, borderRadius: '50%' }} />
      <Txt x={617} y={330} s={10}>OVA peptide</Txt>
      <div style={{ position: 'absolute', left: 604.5, top: 340.5, width: 6, height: 6, border: `1px solid ${INK}` }} />
      <Txt x={617} y={344.3} s={10}>MOG peptide</Txt>

      {/* Panel E */}
      <Txt x={2} y={587.5} s={11} b>E</Txt>
      <Txt x={121.7} y={601.7} s={11.5} a="c">TCR<Sup>MOG</Sup>CD4<Sup>+</Sup></Txt>

      {/* Panel F */}
      <Txt x={218} y={586} s={11} b>F</Txt>
      <Txt x={320.7} y={601.7} s={11.5} a="c">CD69<Sup>+</Sup>CD4<Sup>+</Sup></Txt>
      <Txt x={535} y={601.7} s={11.5} a="c">CD62L<Sup>+</Sup>CD4<Sup>+</Sup></Txt>
      <Dot x={641.7} y={659} r={3.6} c={BLUE} />
      <Txt x={652.7} y={659} s={12.8}>Sal-OVA</Txt>
      <Dot x={641.7} y={682.7} r={3.6} c={RED} />
      <Txt x={652.7} y={682.7} s={12.8}>Sal-MOG</Txt>
    </div>
  );
}
